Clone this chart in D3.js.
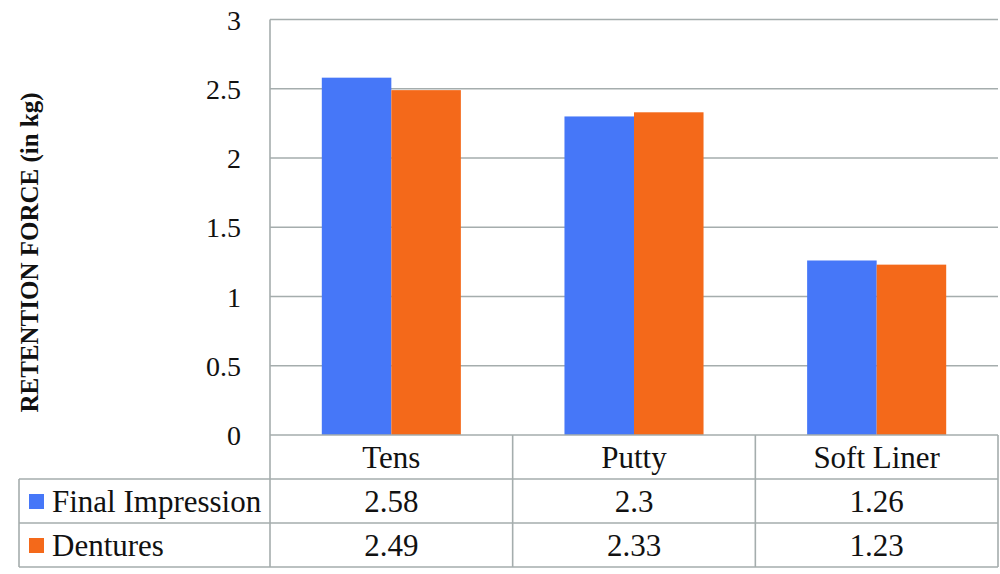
<!DOCTYPE html>
<html><head><meta charset="utf-8">
<script src="https://cdn.jsdelivr.net/npm/d3@7"></script>
<style>
html,body{margin:0;padding:0;background:#fff;}
svg{display:block;}
</style></head>
<body>
<svg id="chart" width="1000" height="574"></svg>
<script>
const categories = ["Tens", "Putty", "Soft Liner"];
const seriesNames = ["Final Impression", "Dentures"];
const finalImpression = [2.58, 2.3, 1.26];
const dentures = [2.49, 2.33, 1.23];
const yTicks = [0, 0.5, 1, 1.5, 2, 2.5, 3];
const tableLabels = [["2.58", "2.3", "1.26"], ["2.49", "2.33", "1.23"]];
const colors = ["#4677F8", "#F4691A"];
const yTitle = "RETENTION FORCE (in kg)";

const FONT = "'Liberation Serif', 'Times New Roman', Tinos, 'DejaVu Serif', serif";
const seriesValues = [finalImpression, dentures];
const svg = d3.select("#chart").attr("font-family", FONT).style("font-family", FONT);
const gridColor = "#a5adad";

const plotLeft = 270, plotRight = 998, plotTop = 19.5, plotBottom = 435;
const rowH = 44;
const tableLeft = 19;

const x0 = d3.scaleBand().domain(categories).range([plotLeft, plotRight]).paddingInner(0).paddingOuter(0);
const x1 = d3.scaleBand().domain(seriesNames).range([0, x0.bandwidth()]).paddingInner(0).paddingOuter(0.745);
const y = d3.scaleLinear().domain([0, 3]).range([plotBottom, plotTop]);

function txt(sel, size) {
  return sel.attr("font-size", size).attr("fill", "#111")
    .attr("font-family", FONT).style("font-family", FONT);
}

// gridlines
svg.append("g").selectAll("line").data(yTicks.filter(d => d > 0)).join("line")
  .attr("x1", plotLeft).attr("x2", plotRight)
  .attr("y1", d => y(d)).attr("y2", d => y(d))
  .attr("stroke", gridColor).attr("stroke-width", 1.6);

// y tick labels via axis
const yAxis = d3.axisLeft(y).tickValues(yTicks).tickSize(0).tickPadding(0).tickFormat(d3.format("~g"));
const ga = svg.append("g").attr("transform", `translate(241,0)`).call(yAxis);
ga.attr("font-family", FONT);
ga.select(".domain").remove();
txt(ga.selectAll("text"), 28).attr("dy", "0.34em");

// bars
const groups = svg.append("g").selectAll("g").data(categories).join("g")
  .attr("transform", c => `translate(${x0(c)},0)`);
groups.selectAll("rect").data((c, i) => seriesNames.map((s, j) => ({s, v: seriesValues[j][i], j})))
  .join("rect")
  .attr("x", d => x1(d.s)).attr("width", x1.bandwidth())
  .attr("y", d => y(d.v)).attr("height", d => y(0) - y(d.v))
  .attr("fill", d => colors[d.j]);

// table lines
const tg = svg.append("g").attr("stroke", gridColor).attr("stroke-width", 1.6).attr("fill", "none");
tg.append("line").attr("x1", plotLeft).attr("x2", plotRight).attr("y1", plotBottom).attr("y2", plotBottom);
[1, 2, 3].forEach(k => {
  tg.append("line").attr("x1", tableLeft).attr("x2", plotRight)
    .attr("y1", plotBottom + k * rowH).attr("y2", plotBottom + k * rowH);
});
tg.append("line").attr("x1", plotLeft).attr("x2", plotLeft).attr("y1", plotTop).attr("y2", plotBottom + 3 * rowH);
tg.append("line").attr("x1", tableLeft).attr("x2", tableLeft).attr("y1", plotBottom + rowH).attr("y2", plotBottom + 3 * rowH);
categories.forEach(c => {
  const xe = x0(c) + x0.bandwidth();
  tg.append("line").attr("x1", xe).attr("x2", xe).attr("y1", plotBottom).attr("y2", plotBottom + 3 * rowH);
});

// header category labels
txt(svg.append("g").selectAll("text").data(categories).join("text"), 31)
  .attr("x", c => x0(c) + x0.bandwidth() / 2)
  .attr("y", plotBottom + rowH / 2).attr("dy", "0.35em")
  .attr("text-anchor", "middle").text(c => c);

// rows
seriesNames.forEach((s, j) => {
  const cy = plotBottom + rowH * (j + 1) + rowH / 2;
  svg.append("rect").attr("x", 29).attr("y", cy - 7).attr("width", 15).attr("height", 15).attr("fill", colors[j]);
  txt(svg.append("text"), 31).attr("x", 52).attr("y", cy).attr("dy", "0.35em").text(s);
  txt(svg.append("g").selectAll("text").data(categories).join("text"), 31)
    .attr("x", c => x0(c) + x0.bandwidth() / 2)
    .attr("y", cy).attr("dy", "0.35em").attr("text-anchor", "middle")
    .text((c, i) => tableLabels[j][i]);
});

// y title
txt(svg.append("text"), 25)
  .attr("transform", `translate(38,${(95 + 410) / 2}) rotate(-90)`)
  .attr("text-anchor", "middle").attr("font-weight", "bold")
  .text(yTitle);
</script>
</body></html>
